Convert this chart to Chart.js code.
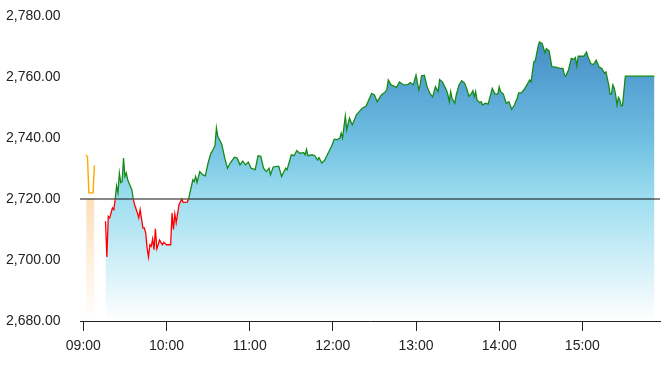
<!DOCTYPE html>
<html><head><meta charset="utf-8">
<script src="https://cdn.jsdelivr.net/npm/chart.js@4.4.1/dist/chart.umd.min.js"></script>
<style>html,body{margin:0;padding:0;background:#fff}#c{display:block}</style>
</head><body>
<canvas id="c" width="668" height="367"></canvas>
<script>
const prevClose = 2720;
const yTicks = [2680, 2700, 2720, 2740, 2760, 2780];
const xTickLabels = ['09:00', '10:00', '11:00', '12:00', '13:00', '14:00', '15:00'];
const xRange = [-2.4, 416];

const preTimes = ['09:02', '09:03', '09:04', '09:07', '09:08'];
const prePrices = [2734.5, 2733.8, 2722.0, 2722.0, 2731.0];

const times = [
  '09:16','09:17','09:18','09:19','09:20','09:21','09:22','09:23','09:24','09:25',
  '09:26','09:27','09:28','09:29','09:30','09:31','09:32','09:34','09:35','09:36',
  '09:37','09:39','09:40','09:41','09:43','09:44','09:45','09:46','09:47','09:48',
  '09:49','09:50','09:51','09:52','09:53','09:54','09:55','09:57','09:58','10:00',
  '10:03','10:04','10:05','10:06','10:07','10:09','10:11','10:12','10:15','10:16',
  '10:19','10:20','10:21','10:22','10:24','10:26','10:28','10:30','10:32','10:33',
  '10:35','10:36','10:37','10:39','10:40','10:42','10:44','10:46','10:49','10:51',
  '10:53','10:55','10:57','10:59','11:01','11:04','11:06','11:08','11:10','11:12',
  '11:14','11:15','11:17','11:20','11:21','11:23','11:26','11:27','11:30','11:32',
  '11:34','11:36','11:39','11:40','11:41','11:42','11:45','11:47','11:49','11:50',
  '11:52','11:54','11:56','11:59','12:01','12:03','12:05','12:06','12:07','12:09',
  '12:10','12:12','12:14','12:16','12:17','12:21','12:24','12:28','12:30','12:32',
  '12:35','12:38','12:39','12:40','12:42','12:46','12:48','12:51','12:54','12:56',
  '12:58','13:00','13:02','13:03','13:04','13:06','13:08','13:10','13:12','13:14',
  '13:16','13:17','13:19','13:22','13:23','13:24','13:25','13:26','13:28','13:29',
  '13:31','13:33','13:35','13:37','13:38','13:40','13:41','13:42','13:43','13:44',
  '13:46','13:47','13:48','13:50','13:52','13:55','13:57','13:59','14:00','14:01',
  '14:03','14:05','14:07','14:09','14:11','14:13','14:14','14:16','14:18','14:20',
  '14:22','14:23','14:25','14:26','14:28','14:29','14:31','14:33','14:34','14:36',
  '14:38','14:40','14:44','14:46','14:47','14:48','14:50','14:52','14:54','14:55',
  '14:56','14:57','15:01','15:03','15:04','15:06','15:08','15:10','15:12','15:14',
  '15:16','15:17','15:19','15:20','15:21','15:22','15:23','15:24','15:25','15:26',
  '15:27','15:28','15:29','15:31','15:52'
];
const prices = [
  2712.7,2701.0,2714.3,2713.8,2715.4,2717.1,2716.5,2720.0,2724.3,2722.0,
  2728.5,2725.4,2725.7,2733.4,2727.4,2728.5,2726.3,2724.1,2723.0,2720.0,
  2718.1,2715.4,2713.8,2716.5,2710.5,2710.5,2708.9,2704.0,2701.0,2705.0,
  2704.5,2706.9,2703.4,2710.2,2703.7,2705.0,2706.5,2705.0,2705.8,2705.0,
  2705.0,2715.4,2710.0,2715.1,2712.2,2718.1,2720.0,2718.9,2719.0,2720.1,
  2726.3,2725.7,2727.4,2725.4,2729.0,2728.0,2727.6,2731.8,2735.0,2735.6,
  2737.5,2743.3,2740.5,2738.8,2737.7,2733.4,2730.1,2731.8,2733.7,2733.4,
  2731.2,2732.4,2731.2,2732.1,2730.1,2729.6,2734.2,2734.0,2730.1,2729.0,
  2730.1,2728.0,2730.5,2730.7,2730.7,2727.4,2730.1,2729.6,2734.5,2734.2,
  2735.9,2735.0,2735.2,2734.5,2736.3,2734.2,2734.5,2734.2,2732.8,2733.6,
  2731.8,2732.6,2734.5,2737.2,2739.6,2739.5,2739.9,2741.6,2740.0,2747.2,
  2742.7,2746.5,2744.3,2746.5,2747.6,2749.7,2750.5,2754.6,2754.1,2751.9,
  2754.1,2755.2,2756.0,2759.0,2757.4,2756.6,2758.4,2757.4,2757.5,2758.2,
  2757.4,2760.6,2755.7,2757.4,2760.4,2760.6,2756.8,2754.6,2753.5,2756.8,
  2755.2,2759.2,2758.4,2755.7,2754.1,2751.9,2755.2,2753.0,2751.4,2754.1,
  2757.4,2758.8,2758.0,2755.7,2753.7,2754.6,2755.5,2753.5,2755.2,2752.5,
  2751.6,2751.9,2750.8,2751.4,2751.1,2756.3,2754.4,2754.4,2756.8,2755.2,
  2754.4,2751.4,2751.9,2749.4,2750.8,2753.0,2754.8,2754.8,2755.9,2757.4,
  2759.0,2758.4,2765.0,2765.3,2769.9,2771.5,2771.0,2767.9,2769.3,2768.6,
  2763.3,2763.3,2762.8,2762.8,2760.6,2760.3,2762.3,2766.1,2765.8,2766.4,
  2763.6,2766.8,2766.8,2768.2,2766.6,2764.4,2764.1,2765.5,2763.3,2762.8,
  2761.2,2761.7,2757.4,2754.4,2754.4,2757.4,2756.3,2754.1,2750.8,2753.3,
  2752.5,2750.5,2750.8,2760.3,2760.3
];

const toMin = s => { const [h, m] = s.split(':').map(Number); return (h - 9) * 60 + m; };
const fmtTime = v => { const h = 9 + Math.floor(v / 60), m = Math.round(v % 60); return String(h).padStart(2, '0') + ':' + String(m).padStart(2, '0'); };

const mainData = times.map((t, i) => ({ x: toMin(t), y: prices[i] }));
const preData = preTimes.map((t, i) => ({ x: toMin(t), y: prePrices[i] }));
const bandData = preTimes.map(t => ({ x: toMin(t), y: prevClose }));
const refData = xRange.map(x => ({ x, y: prevClose }));

const GREEN = '#168a16', RED = '#ff0000', ORANGE = '#ffa500';

function blueFill(ctx) {
  const ch = ctx.chart, a = ch.chartArea;
  if (!a) return 'rgba(0,0,0,0)';
  const g = ch.ctx.createLinearGradient(0, a.top, 0, a.bottom);
  g.addColorStop(0, 'rgb(58,128,194)');
  g.addColorStop(0.4, 'rgb(110,190,225)');
  g.addColorStop(0.6, 'rgb(158,222,240)');
  g.addColorStop(1, 'rgb(255,255,255)');
  return g;
}
function orangeFill(ctx) {
  const ch = ctx.chart, a = ch.chartArea;
  if (!a) return 'rgba(0,0,0,0)';
  const y0 = ch.scales.y.getPixelForValue(prevClose);
  const g = ch.ctx.createLinearGradient(0, y0, 0, a.bottom);
  g.addColorStop(0, 'rgb(253,224,188)');
  g.addColorStop(1, 'rgb(255,255,255)');
  return g;
}
function lineStroke(ctx) {
  const ch = ctx.chart, a = ch.chartArea;
  if (!a) return GREEN;
  const y0 = ch.scales.y.getPixelForValue(prevClose);
  const f = Math.min(1, Math.max(0, (y0 - a.top) / (a.bottom - a.top)));
  const g = ch.ctx.createLinearGradient(0, a.top, 0, a.bottom);
  g.addColorStop(0, GREEN); g.addColorStop(f, GREEN);
  g.addColorStop(f, RED); g.addColorStop(1, RED);
  return g;
}

const font = { family: '"Liberation Sans", Arial, sans-serif', size: 14 };

new Chart(document.getElementById('c'), {
  type: 'line',
  data: {
    datasets: [
      { data: mainData, fill: 'start', backgroundColor: blueFill, borderColor: 'rgba(0,0,0,0)', borderWidth: 0, pointRadius: 0, order: 5 },
      { data: bandData, fill: 'start', backgroundColor: orangeFill, borderColor: 'rgba(0,0,0,0)', borderWidth: 0, pointRadius: 0, order: 5 },
      { data: refData, fill: false, borderColor: '#111', borderWidth: 1.1, pointRadius: 0, order: 3 },
      { data: preData, fill: false, borderColor: ORANGE, borderWidth: 1.4, pointRadius: 0, order: 1 },
      { data: mainData, fill: false, borderColor: lineStroke, borderWidth: 1.3, pointRadius: 0, order: 1 }
    ]
  },
  options: {
    responsive: false,
    devicePixelRatio: 1,
    animation: false,
    layout: { padding: { left: 6, right: 8, top: 16, bottom: 0 } },
    plugins: { legend: { display: false }, tooltip: { enabled: false } },
    elements: { line: { tension: 0 } },
    scales: {
      x: {
        type: 'linear', min: xRange[0], max: xRange[1],
        afterBuildTicks: s => { s.ticks = xTickLabels.map(l => ({ value: toMin(l) })); },
        afterFit: s => { s.height = 46; },
        ticks: { callback: v => fmtTime(v), font, color: '#222', padding: 7, maxRotation: 0, autoSkip: false },
        grid: { display: true, drawOnChartArea: false, drawTicks: true, tickLength: 10, color: '#222' },
        border: { display: true, color: '#222', width: 1 }
      },
      y: {
        type: 'linear', min: yTicks[0], max: yTicks[yTicks.length - 1],
        afterBuildTicks: s => { s.ticks = yTicks.map(v => ({ value: v })); },
        afterFit: s => { s.width = 74; },
        ticks: { callback: v => v.toLocaleString('en-US', { minimumFractionDigits: 2, maximumFractionDigits: 2 }), font, color: '#222', crossAlign: 'far', padding: 0 },
        grid: { display: false },
        border: { display: false }
      }
    }
  }
});
</script>
</body></html>
